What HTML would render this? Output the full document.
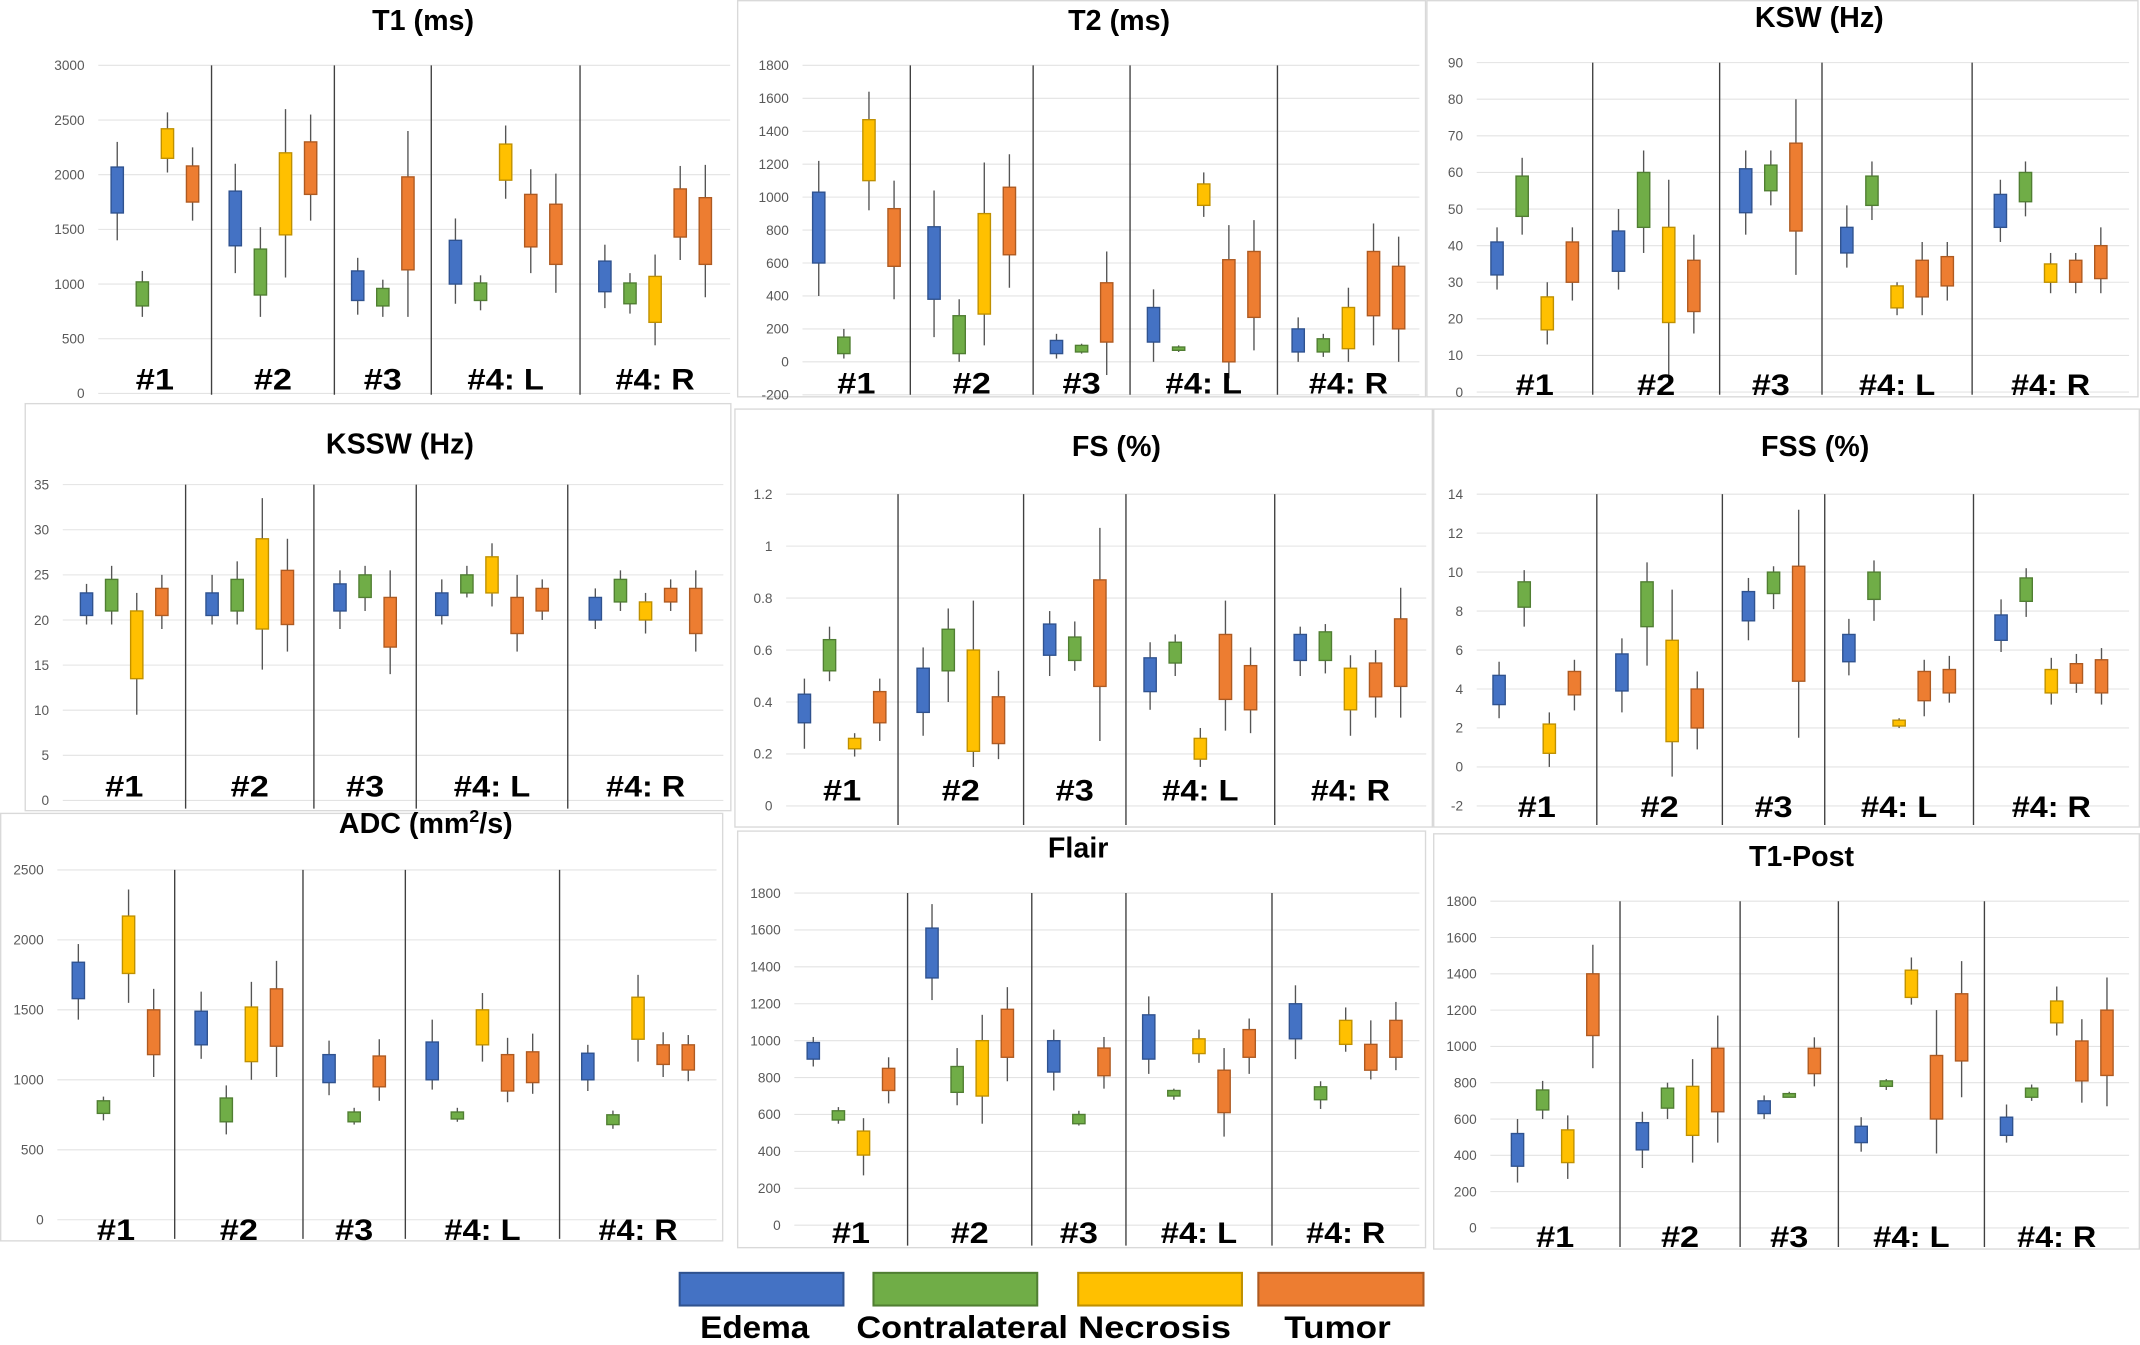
<!DOCTYPE html>
<html><head><meta charset="utf-8">
<style>
html,body{margin:0;padding:0;background:#fff;}
svg{display:block;font-family:"Liberation Sans",sans-serif;}
</style></head>
<body>
<svg id="fig" width="2140" height="1345" viewBox="0 0 1568 988" preserveAspectRatio="none" xmlns="http://www.w3.org/2000/svg"></svg>
<script>
// series: 0 Edema, 1 Contralateral, 2 Necrosis, 3 Tumor
const seriesNames = ["Edema","Contralateral","Necrosis","Tumor"];
const groupLabels = ["#1","#2","#3","#4: L","#4: R"];
// each box: [series, min, q1, q3, max]
const t1Data = [
 [[0,1400,1650,2070,2300],[1,700,800,1020,1120],[2,2020,2150,2420,2570],[3,1580,1750,2080,2250]],
 [[0,1100,1350,1850,2100],[1,700,900,1320,1520],[2,1060,1450,2200,2600],[3,1580,1820,2300,2550]],
 [[0,720,850,1120,1240],[1,700,800,960,1040],[3,700,1130,1980,2400]],
 [[0,820,1000,1400,1600],[1,760,850,1010,1080],[2,1780,1950,2280,2450],[3,1100,1340,1820,2050],[3,920,1180,1730,2010]],
 [[0,780,930,1210,1360],[1,730,820,1010,1100],[2,440,650,1070,1270],[3,1220,1430,1870,2080],[3,880,1180,1790,2090]]
];
const t2Data = [
 [[0,400,600,1030,1220],[1,20,50,150,200],[2,920,1100,1470,1640],[3,380,580,930,1100]],
 [[0,150,380,820,1040],[1,0,50,280,380],[2,100,290,900,1210],[3,450,650,1060,1260]],
 [[0,20,50,130,170],[1,50,60,100,110],[3,-80,120,480,670]],
 [[0,0,120,330,440],[1,60,70,90,100],[2,880,950,1080,1150],[3,-100,0,620,830],[3,70,270,670,860]],
 [[0,0,60,200,270],[1,30,60,140,170],[2,0,80,330,450],[3,100,280,670,840],[3,0,200,580,760]]
];
const kswData = [
 [[0,28,32,41,45],[1,43,48,59,64],[2,13,17,26,30],[3,25,30,41,45]],
 [[0,28,33,44,50],[1,38,45,60,66],[2,2,19,45,58],[3,16,22,36,43]],
 [[0,43,49,61,66],[1,51,55,62,66],[3,32,44,68,80]],
 [[0,34,38,45,51],[1,47,51,59,63],[2,21,23,29,30],[3,21,26,36,41],[3,25,29,37,41]],
 [[0,41,45,54,58],[1,48,52,60,63],[2,27,30,35,38],[3,27,30,36,38],[3,27,31,40,45]]
];
const ksswData = [
 [[0,19.5,20.5,23,24],[1,19.5,21,24.5,26],[2,9.5,13.5,21,23],[3,19,20.5,23.5,25]],
 [[0,19.5,20.5,23,25],[1,19.5,21,24.5,26.5],[2,14.5,19,29,33.5],[3,16.5,19.5,25.5,29]],
 [[0,19,21,24,25.5],[1,21,22.5,25,26],[3,14,17,22.5,25.5]],
 [[0,19.5,20.5,23,24.5],[1,22.5,23,25,26],[2,21.5,23,27,28.5],[3,16.5,18.5,22.5,25],[3,20,21,23.5,24.5]],
 [[0,19,20,22.5,23.5],[1,21,22,24.5,25.5],[2,18.5,20,22,23],[3,21,22,23.5,24.5],[3,16.5,18.5,23.5,25.5]]
];
const fsData = [
 [[0,0.22,0.32,0.43,0.49],[1,0.48,0.52,0.64,0.69],[2,0.19,0.22,0.26,0.28],[3,0.25,0.32,0.44,0.49]],
 [[0,0.27,0.36,0.53,0.61],[1,0.4,0.52,0.68,0.76],[2,0.15,0.21,0.6,0.79],[3,0.18,0.24,0.42,0.52]],
 [[0,0.5,0.58,0.7,0.75],[1,0.52,0.56,0.65,0.71],[3,0.25,0.46,0.87,1.07]],
 [[0,0.37,0.44,0.57,0.63],[1,0.5,0.55,0.63,0.66],[2,0.15,0.18,0.26,0.3],[3,0.29,0.41,0.66,0.79],[3,0.28,0.37,0.54,0.61]],
 [[0,0.5,0.56,0.66,0.69],[1,0.51,0.56,0.67,0.7],[2,0.27,0.37,0.53,0.58],[3,0.34,0.42,0.55,0.6],[3,0.34,0.46,0.72,0.84]]
];
const fssData = [
 [[0,2.5,3.2,4.7,5.4],[1,7.2,8.2,9.5,10.1],[2,0,0.7,2.2,2.8],[3,2.9,3.7,4.9,5.5]],
 [[0,2.8,3.9,5.8,6.6],[1,5.2,7.2,9.5,10.5],[2,-0.5,1.3,6.5,9.1],[3,0.9,2,4,4.9]],
 [[0,6.5,7.5,9,9.7],[1,8.1,8.9,10,10.3],[3,1.5,4.4,10.3,13.2]],
 [[0,4.7,5.4,6.8,7.6],[1,7.5,8.6,10,10.6],[2,2,2.1,2.4,2.5],[3,2.6,3.4,4.9,5.5],[3,3.3,3.8,5,5.7]],
 [[0,5.9,6.5,7.8,8.6],[1,7.7,8.5,9.7,10.2],[2,3.2,3.8,5,5.6],[3,3.8,4.3,5.3,5.8],[3,3.2,3.8,5.5,6.1]]
];
const adcData = [
 [[0,1430,1580,1840,1970],[1,710,760,850,880],[2,1550,1760,2170,2360],[3,1020,1180,1500,1650]],
 [[0,1150,1250,1490,1630],[1,610,700,870,960],[2,1000,1130,1520,1700],[3,1020,1240,1650,1850]],
 [[0,890,980,1180,1280],[1,680,700,770,800],[3,850,950,1170,1290]],
 [[0,930,1000,1270,1430],[1,700,720,770,800],[2,1130,1250,1500,1620],[3,840,920,1180,1300],[3,900,980,1200,1330]],
 [[0,920,1000,1190,1250],[1,650,680,750,780],[2,1130,1290,1590,1750],[3,1020,1110,1250,1340],[3,990,1070,1250,1320]]
];
const flairData = [
 [[0,860,900,990,1020],[1,550,570,620,640],[2,270,380,510,580],[3,660,730,850,910]],
 [[0,1220,1340,1610,1740],[1,650,720,860,960],[2,550,700,1000,1140],[3,780,910,1170,1290]],
 [[0,730,830,1000,1060],[1,540,550,600,620],[3,740,810,960,1020]],
 [[0,820,900,1140,1240],[1,680,700,730,740],[2,880,930,1010,1060],[3,480,610,840,960],[3,820,910,1060,1120]],
 [[0,900,1010,1200,1300],[1,630,680,750,780],[2,940,980,1110,1180],[3,790,840,980,1110],[3,840,910,1110,1210]]
];
const t1postData = [
 [[0,250,340,520,600],[1,600,650,760,810],[2,270,360,540,620],[3,880,1060,1400,1560]],
 [[0,330,430,580,640],[1,600,660,770,800],[2,360,510,780,930],[3,470,640,990,1170]],
 [[0,600,630,700,730],[1,720,720,740,750],[3,780,850,990,1050]],
 [[0,420,470,560,610],[1,760,780,810,820],[2,1230,1270,1420,1490],[3,410,600,950,1200],[3,720,920,1290,1470]],
 [[0,470,510,610,680],[1,700,720,770,790],[2,1060,1130,1250,1330],[3,690,810,1030,1150],[3,670,840,1200,1380]]
];
const t1Ticks=[0,500,1000,1500,2000,2500,3000];
const t2Ticks=[-200,0,200,400,600,800,1000,1200,1400,1600,1800];
const kswTicks=[0,10,20,30,40,50,60,70,80,90];
const ksswTicks=[0,5,10,15,20,25,30,35];
const fsTicks=[0,0.2,0.4,0.6,0.8,1,1.2];
const fssTicks=[-2,0,2,4,6,8,10,12,14];
const adcTicks=[0,500,1000,1500,2000,2500];
const flairTicks=[0,200,400,600,800,1000,1200,1400,1600,1800];
const t1postTicks=[0,200,400,600,800,1000,1200,1400,1600,1800];

const fill=["#4472C4","#70AD47","#FFC000","#ED7D31"];
const edge=["#2F528F","#507E32","#BF9000","#AE5A21"];
const NS="http://www.w3.org/2000/svg";
const svg=document.getElementById('fig');
function mk(tag,parent,attrs){const e=document.createElementNS(NS,tag);for(const k in attrs)e.setAttribute(k,attrs[k]);parent.appendChild(e);return e;}

const panels=[
 {key:"t1",title:"T1",unit:"(ms)",tx:310,ty:22,fx:0,fy:0,fw:540,fh:292,L:72,R:535,top:48,bot:289,ticks:t1Ticks,data:t1Data,divs:[155,245,316,425],ly:286,frame:false},
 {key:"t2",title:"T2",unit:"(ms)",tx:820,ty:22,fx:540,fy:0,fw:505,fh:292,L:588,R:1040,top:48,bot:290,ticks:t2Ticks,data:t2Data,divs:[667,757,828,936],ly:289,frame:true},
 {key:"ksw",title:"KSW",unit:"(Hz)",tx:1333,ty:20,fx:1045,fy:0,fw:522,fh:292,L:1082,R:1560,top:46,bot:288,ticks:kswTicks,data:kswData,divs:[1167,1260,1335,1445],ly:290,frame:true},
 {key:"kssw",title:"KSSW",unit:"(Hz)",tx:293,ty:333,fx:18,fy:296,fw:518,fh:300,L:46,R:530,top:356,bot:588,ticks:ksswTicks,data:ksswData,divs:[136,230,305,416],ly:585,frame:true},
 {key:"fs",title:"FS",unit:"(%)",tx:818,ty:335,fx:538,fy:300,fw:512,fh:308,L:576,R:1045,top:363,bot:592,ticks:fsTicks,data:fsData,divs:[658,750,825,934],ly:588,frame:true},
 {key:"fss",title:"FSS",unit:"(%)",tx:1330,ty:335,fx:1050,fy:300,fw:518,fh:308,L:1082,R:1560,top:363,bot:592,ticks:fssTicks,data:fssData,divs:[1170,1262,1337,1446],ly:600,frame:true},
 {key:"adc",title:"ADC",unit:"",tx:312,ty:612,fx:0,fy:597,fw:530,fh:315,L:42,R:525,top:639,bot:896,ticks:adcTicks,data:adcData,divs:[128,222,297,410],ly:911,frame:true},
 {key:"flair",title:"Flair",unit:"",tx:790,ty:630,fx:540,fy:610,fw:505,fh:307,L:582,R:1040,top:656,bot:900,ticks:flairTicks,data:flairData,divs:[665,756,825,932],ly:913,frame:true},
 {key:"t1post",title:"T1-Post",unit:"",tx:1320,ty:636,fx:1050,fy:612,fw:518,fh:306,L:1092,R:1560,top:662,bot:902,ticks:t1postTicks,data:t1postData,divs:[1187,1275,1347,1454],ly:916,frame:true}
];

panels.forEach(p=>{
  const g=mk('g',svg,{});
  
  
  if(p.frame){
    const fr=mk('rect',g,{x:p.fx+0.5,y:p.fy+0.5,width:p.fw-1,height:p.fh-1,fill:'#fff',stroke:'#d9d9d9','stroke-width':1});
    
    
  }
  const vmin=p.ticks[0], vmax=p.ticks[p.ticks.length-1];
  const y=v=>p.bot-(v-vmin)/(vmax-vmin)*(p.bot-p.top);
  // gridlines & tick labels
  p.ticks.forEach(t=>{
    const gl=mk('line',g,{x1:p.L,x2:p.R,y1:y(t),y2:y(t),stroke:'#e3e3e3','stroke-width':0.8});
    
    
    const tl=mk('text',g,{x:p.L-10,y:y(t)+3.5,'text-anchor':'end','font-size':10,fill:'#595959'});
    tl.textContent=String(t);
    
    
  });
  // title
  const tt=mk('text',g,{x:p.tx,y:p.ty,'text-anchor':'middle','font-size':21,'font-weight':'bold',fill:'#000'});
  if(p.key==='adc'){
    tt.innerHTML='ADC (mm<tspan font-size="13" dy="-8">2</tspan><tspan dy="8">/s)</tspan>';
  } else {
    tt.textContent=p.title+(p.unit?' '+p.unit:'');
  }
  
  
  // group bounds
  const bounds=[p.L,...p.divs,p.R];
  p.divs.forEach(d=>{
    const dl=mk('line',g,{x1:d,x2:d,y1:p.top,y2:p.fy+p.fh-2,stroke:'#404040','stroke-width':1});
    
    
  });
  p.data.forEach((grp,gi)=>{
    const c=(bounds[gi]+bounds[gi+1])/2;
    const sp=18.4, n=grp.length, bw=9;
    grp.forEach((b,i)=>{
      const x=c+(i-(n-1)/2)*sp;
      const s=b[0];
      const w=mk('line',g,{x1:x,x2:x,y1:y(b[1]),y2:y(b[4]),stroke:'#555','stroke-width':1});
      
      
      const r=mk('rect',g,{x:x-bw/2,y:y(b[3]),width:bw,height:Math.max(1.5,y(b[2])-y(b[3])),fill:fill[s],stroke:edge[s],'stroke-width':1});
      
      
    });
    const lw=[28,28,28,56,58][gi];
    const lb=mk('text',g,{x:c,y:p.ly,'text-anchor':'middle','font-size':22,'font-weight':'bold',fill:'#000',textLength:lw,lengthAdjust:'spacingAndGlyphs'});
    lb.textContent=groupLabels[gi];
    
    
  });
});

// legend
const legX=[498,640,790,922], legW=[120,120,120,121], legTX=[553,705,846,980], legTL=[80,155,112,78];
const lg=mk('g',svg,{});


seriesNames.forEach((nm,i)=>{
  const r=mk('rect',lg,{x:legX[i],y:935,width:legW[i],height:24,fill:fill[i],stroke:edge[i],'stroke-width':1.5});
  
  
  const t=mk('text',lg,{x:legTX[i],y:983,'text-anchor':'middle','font-size':23,'font-weight':'bold',fill:'#000',textLength:legTL[i],lengthAdjust:'spacingAndGlyphs'});
  t.textContent=nm;
  
  
});
</script>
</body></html>
